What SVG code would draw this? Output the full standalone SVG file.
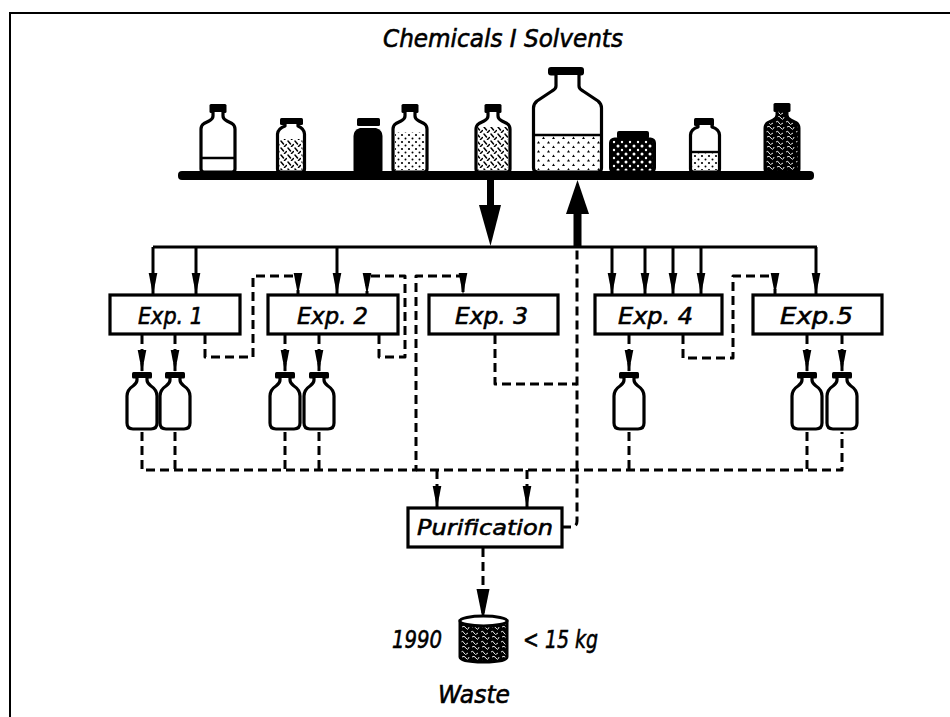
<svg xmlns="http://www.w3.org/2000/svg" width="950" height="717" viewBox="0 0 950 717">
<defs>
<style>
.t{font-family:"DejaVu Sans","Liberation Sans",sans-serif;font-style:oblique;fill:#000;stroke:#000;stroke-width:0.6}
.box{fill:#fff;stroke:#000;stroke-width:3.2}
.bt{fill:#fff;stroke:#000;stroke-width:3.2;stroke-linejoin:round}
.cap{fill:#000}
.s{fill:none;stroke:#000;stroke-width:3;stroke-linejoin:round}
.d{fill:none;stroke:#000;stroke-width:3;stroke-dasharray:9 5;stroke-linejoin:round}
.lv{stroke:#000;stroke-width:2.4}
</style>
<marker id="ah" markerUnits="userSpaceOnUse" markerWidth="22" markerHeight="11" viewBox="0 0 22 11" refX="21" refY="5.5" orient="auto"><path d="M0,1.2 L22,5.5 L0,9.8 Z" fill="#000"/></marker>
<marker id="ahL" markerUnits="userSpaceOnUse" markerWidth="32" markerHeight="14" viewBox="0 0 32 14" refX="31" refY="7" orient="auto"><path d="M0,0.5 L32,7 L0,13.5 Z" fill="#000"/></marker>
<pattern id="hatch" width="7" height="7" patternUnits="userSpaceOnUse"><path d="M1,1 L3.5,4 M4.5,6.5 L6.5,4.5" stroke="#000" stroke-width="1.5" stroke-linecap="round"/></pattern>
<pattern id="dots" width="7" height="7" patternUnits="userSpaceOnUse"><circle cx="2" cy="2" r="1.1"/><circle cx="5.5" cy="5.5" r="1"/></pattern>
<pattern id="tri" width="10" height="9" patternUnits="userSpaceOnUse"><path d="M2,4 L3.5,1.5 L5,4 Z"/><path d="M7,8.5 L8.5,6 L10,8.5 Z"/></pattern>
<pattern id="wdots" width="8" height="8" patternUnits="userSpaceOnUse"><rect width="8" height="8" fill="#000"/><circle cx="2" cy="2" r="1.5" fill="#fff"/><circle cx="6" cy="6" r="1.2" fill="#fff"/></pattern>
<pattern id="dense" width="10" height="10" patternUnits="userSpaceOnUse"><rect width="10" height="10" fill="#000"/><path d="M1,2 Q3,0 4,3 T8,3 M2,7 Q4,5 6,8 T9,7" stroke="#fff" stroke-width="0.9" fill="none"/></pattern>
<g id="sb">
<rect x="-10" y="0" width="20" height="6.5" rx="1.5" class="cap"/>
<path class="bt" d="M-5,6 V8 Q-5,11 -9,14 Q-15,18 -15,24 V51 Q-15,57 -9,57 H9 Q15,57 15,51 V24 Q15,18 9,14 Q5,11 5,8 V6"/>
</g>
</defs>
<rect width="950" height="717" fill="#fff"/>
<path d="M10,717 V13 H950" fill="none" stroke="#000" stroke-width="2"/>

<g id="chemicals">
<text class="t" x="383" y="47" font-size="24" textLength="240" lengthAdjust="spacingAndGlyphs">Chemicals I Solvents</text>
<g transform="translate(201,0)">
<rect x="8.5" y="104" width="17" height="9" rx="1.5" class="cap"/>
<path class="bt" d="M12,112 V116 Q12,119 8,121 L3,123.5 Q0,125.5 0,129 V169 Q0,172 3,172 H31 Q34,172 34,169 V129 Q34,125.5 31,123.5 L26,121 Q22,119 22,116 V112"/>
<path class="lv" d="M0,158 H34"/>
</g>
<rect x="280" y="118" width="23" height="7" rx="1.5" class="cap"/>
<path class="bt" d="M285,124 V126 Q278,128.5 277.5,134 V169 Q277.5,172 280.5,172 H301.5 Q304.5,172 304.5,169 V134 Q304,128.5 298,126 V124"/>
<rect x="279.5" y="139" width="23" height="31" fill="url(#hatch)"/>
<rect x="357" y="118" width="23" height="8" rx="1.5" class="cap"/>
<path d="M360,128 Q353.5,130 353.5,136 V170 Q353.5,173 356.5,173 H379.5 Q382.5,173 382.5,170 V136 Q382.5,130 376,128 Z" fill="#000"/>
<g transform="translate(393,0)">
<rect x="8.5" y="104" width="17" height="9" rx="1.5" class="cap"/>
<path class="bt" d="M12,112 V116 Q12,119 8,121 L3,123.5 Q0,125.5 0,129 V169 Q0,172 3,172 H31 Q34,172 34,169 V129 Q34,125.5 31,123.5 L26,121 Q22,119 22,116 V112"/>
<rect x="2" y="132" width="30" height="38" fill="url(#dots)"/>
</g>
<g transform="translate(476,0)">
<rect x="8.5" y="104" width="17" height="9" rx="1.5" class="cap"/>
<path class="bt" d="M12,112 V116 Q12,119 8,121 L3,123.5 Q0,125.5 0,129 V169 Q0,172 3,172 H31 Q34,172 34,169 V129 Q34,125.5 31,123.5 L26,121 Q22,119 22,116 V112"/>
<rect x="2" y="127" width="30" height="43" fill="url(#hatch)"/>
</g>
<rect x="548" y="67" width="36" height="8.5" rx="3" class="cap"/>
<path class="bt" d="M556,75 V86 Q556,89 552,91 L537,101 Q533.5,104 533.5,108 V168 Q533.5,172 537.5,172 H597.5 Q601.5,172 601.5,168 V108 Q601.5,104 598,101 L583,91 Q579,89 579,86 V75"/>
<rect x="535" y="135" width="65" height="35" fill="url(#tri)"/>
<path class="lv" d="M533.5,135 H601.5"/>
<rect x="617" y="131" width="32" height="8" rx="2" class="cap"/>
<rect x="610.5" y="139" width="44" height="33" rx="4" fill="url(#wdots)" stroke="#000" stroke-width="3"/>
<rect x="694" y="118" width="20" height="8" rx="1.5" class="cap"/>
<path class="bt" d="M698,125 V127 Q691,129 690.5,135 V169 Q690.5,172 693.5,172 H716.5 Q719.5,172 719.5,169 V135 Q719,129 712,127 V125"/>
<rect x="692.5" y="152" width="25" height="18" fill="url(#dots)"/>
<path class="lv" d="M690.5,152 H719.5"/>
<g transform="translate(765,0)">
<rect x="8.5" y="103" width="17" height="9" rx="1.5" class="cap"/>
<path d="M12,111 V115 Q12,118 8,120 L3,122.5 Q0,124.5 0,128 V169 Q0,172 3,172 H31 Q34,172 34,169 V128 Q34,124.5 31,122.5 L26,120 Q22,118 22,115 V111" fill="url(#dense)" stroke="#000" stroke-width="3" stroke-linejoin="round"/>
</g>
<rect x="178" y="171" width="636" height="9" rx="4" fill="#000"/>
</g>

<g id="connectors">
<rect x="487" y="179" width="7" height="27" fill="#000"/>
<polygon points="479,205 501,205 490.5,246" fill="#000"/>
<rect x="573.5" y="212" width="8" height="36" fill="#000"/>
<polygon points="566,214 589,214 577.5,180" fill="#000"/>
<path class="s" d="M153,247 H817"/>
<path class="s" d="M153,247 V294" marker-end="url(#ah)"/>
<path class="s" d="M196,247 V294" marker-end="url(#ah)"/>
<path class="s" d="M337,247 V294" marker-end="url(#ah)"/>
<path class="s" d="M612,247 V294" marker-end="url(#ah)"/>
<path class="s" d="M645,247 V294" marker-end="url(#ah)"/>
<path class="s" d="M673,247 V294" marker-end="url(#ah)"/>
<path class="s" d="M701,247 V294" marker-end="url(#ah)"/>
<path class="s" d="M816,247 V294" marker-end="url(#ah)"/>
<path class="d" d="M205,335 V357 H253 V276 H298 V294" marker-end="url(#ah)"/>
<path class="d" d="M379,335 V357 H405 V276 H367 V294" marker-end="url(#ah)"/>
<path class="d" d="M683,335 V358 H733 V276 H775 V294" marker-end="url(#ah)"/>
<path class="d" d="M142,432 V470 H416 V276 H463 V294" marker-end="url(#ah)"/>
<path class="d" d="M416,470 H842 V432"/>
<path class="d" d="M175,432 V470 M285,432 V470 M319,432 V470 M629,432 V470 M807,432 V470"/>
<path class="d" d="M437,470 V507" marker-end="url(#ah)"/>
<path class="d" d="M527,470 V507" marker-end="url(#ah)"/>
<path class="d" d="M495,335 V384 H577"/>
<path class="d" d="M562,527 H571 Q577,527 577,521 V249"/>
<path class="d" d="M142,335 V371" marker-end="url(#ah)"/>
<path class="d" d="M175,335 V371" marker-end="url(#ah)"/>
<path class="d" d="M285,335 V371" marker-end="url(#ah)"/>
<path class="d" d="M319,335 V371" marker-end="url(#ah)"/>
<path class="d" d="M629,335 V371" marker-end="url(#ah)"/>
<path class="d" d="M807,335 V371" marker-end="url(#ah)"/>
<path class="d" d="M842,335 V371" marker-end="url(#ah)"/>
<path class="d" d="M483,548 V620" marker-end="url(#ahL)"/>
</g>

<g id="exp1"><rect class="box" x="110" y="295" width="130" height="39"/><text class="t" x="138" y="324" font-size="23" textLength="65" lengthAdjust="spacingAndGlyphs">Exp. 1</text></g>
<g id="exp2"><rect class="box" x="268" y="295" width="130" height="39"/><text class="t" x="297" y="324" font-size="23" textLength="71" lengthAdjust="spacingAndGlyphs">Exp. 2</text></g>
<g id="exp3"><rect class="box" x="429" y="295" width="129" height="39"/><text class="t" x="455" y="324" font-size="23" textLength="73" lengthAdjust="spacingAndGlyphs">Exp. 3</text></g>
<g id="exp4"><rect class="box" x="595" y="295" width="127" height="39"/><text class="t" x="618" y="324" font-size="23" textLength="75" lengthAdjust="spacingAndGlyphs">Exp. 4</text></g>
<g id="exp5"><rect class="box" x="753" y="295" width="129" height="39"/><text class="t" x="780" y="324" font-size="23" textLength="73" lengthAdjust="spacingAndGlyphs">Exp.5</text></g>

<g id="samples">
<use href="#sb" transform="translate(142,372)"/>
<use href="#sb" transform="translate(175,372)"/>
<use href="#sb" transform="translate(285,372)"/>
<use href="#sb" transform="translate(319,372)"/>
<use href="#sb" transform="translate(629,372)"/>
<use href="#sb" transform="translate(807,372)"/>
<use href="#sb" transform="translate(842,372)"/>
</g>

<g id="purification"><rect class="box" x="408" y="508" width="154" height="39"/><text class="t" x="417" y="535" font-size="22" textLength="136" lengthAdjust="spacingAndGlyphs">Purification</text></g>

<g id="waste">
<path d="M460,621 V657 Q460,662 483.5,662 Q507,662 507,657 V621 Z" fill="url(#dense)" stroke="#000" stroke-width="3"/>
<ellipse cx="483.5" cy="621" rx="23.5" ry="5" fill="#fff" stroke="#000" stroke-width="3"/>
<text class="t" x="392" y="648" font-size="24" textLength="50" lengthAdjust="spacingAndGlyphs">1990</text>
<text class="t" x="523" y="648" font-size="24" textLength="75" lengthAdjust="spacingAndGlyphs">&lt; 15 kg</text>
<text class="t" x="438" y="703" font-size="24" textLength="72" lengthAdjust="spacingAndGlyphs">Waste</text>
</g>
</svg>
